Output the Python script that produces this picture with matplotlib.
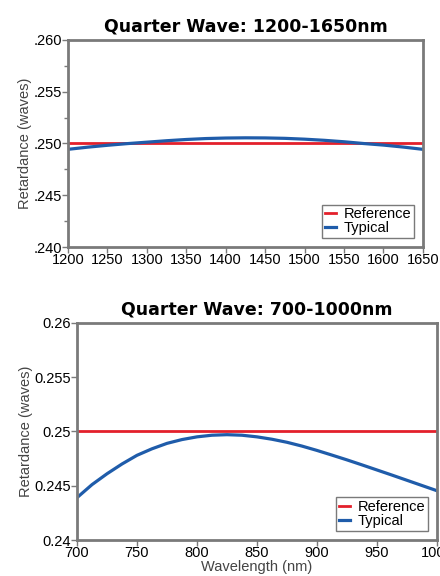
import matplotlib
matplotlib.use("Agg")
import matplotlib.pyplot as plt
from matplotlib.ticker import MultipleLocator, FuncFormatter

plt.rcParams['font.family'] = ['Liberation Sans', 'DejaVu Sans']

# top chart: 1200-1650nm
wl_ir = [1200, 1225, 1250, 1275, 1300, 1325, 1350, 1375, 1400, 1425, 1450,
         1475, 1500, 1525, 1550, 1575, 1600, 1625, 1650]
typ_ir = [0.24943, 0.24964, 0.24982, 0.24998, 0.25012, 0.25026, 0.25038, 0.25047, 0.25052, 0.25054,
          0.25053, 0.25049, 0.25041, 0.25030, 0.25016, 0.24999, 0.24984, 0.24965, 0.24943]
ref_ir = [0.250] * len(wl_ir)

# bottom chart: 700-1000nm
wl_nir = [700, 712.5, 725, 737.5, 750, 762.5, 775, 787.5, 800, 812.5, 825, 837.5, 850,
          862.5, 875, 887.5, 900, 912.5, 925, 937.5, 950, 962.5, 975, 987.5, 1000]
typ_nir = [0.2439, 0.2451, 0.2461, 0.2470, 0.2478, 0.2484, 0.2489, 0.24925, 0.2495, 0.24965,
           0.2497, 0.24965, 0.2495, 0.24928, 0.2490, 0.24865, 0.24825, 0.24782, 0.24738,
           0.24692, 0.24645, 0.24598, 0.2455, 0.24502, 0.24454]
ref_nir = [0.250] * len(wl_nir)

red = '#e3202b'
blue = '#1f5caa'
gray = '#7a7a7a'
fs = 10.5

fig = plt.figure(figsize=(4.4, 5.76), dpi=100)
ax1 = fig.add_axes([0.1545, 0.571, 0.8065, 0.36])
ax2 = fig.add_axes([0.175, 0.0625, 0.818, 0.377])


def style(ax, title):
    for s in ax.spines.values():
        s.set_color(gray)
        s.set_linewidth(2)
    ax.tick_params(which='both', direction='out', color=gray, labelsize=fs, pad=0.5)
    ax.tick_params(which='major', length=4, width=1)
    ax.tick_params(which='minor', length=3, width=1)
    ax.set_ylabel('Retardance (waves)', fontsize=fs, color='#444444', labelpad=1)
    ax.set_title(title, fontsize=12.5, fontweight='bold', family='DejaVu Sans', pad=6)
    leg = ax.legend(loc='lower right', fontsize=fs, handlelength=0.8, handletextpad=0.5,
                    borderpad=0.2, labelspacing=0.0, fancybox=False, framealpha=1,
                    edgecolor=gray, borderaxespad=0.6)
    leg.get_frame().set_linewidth(1)


ax1.plot(wl_ir, ref_ir, color=red, lw=2, label='Reference')
ax1.plot(wl_ir, typ_ir, color=blue, lw=2.3, label='Typical')
ax1.set_xlim(1200, 1650)
ax1.set_ylim(0.240, 0.260)
ax1.xaxis.set_major_locator(MultipleLocator(50))
ax1.yaxis.set_major_locator(MultipleLocator(0.005))
ax1.yaxis.set_minor_locator(MultipleLocator(0.0025))
ax1.yaxis.set_major_formatter(FuncFormatter(lambda v, p: ('%.3f' % v)[1:]))
style(ax1, 'Quarter Wave: 1200-1650nm')

ax2.plot(wl_nir, ref_nir, color=red, lw=2, label='Reference')
ax2.plot(wl_nir, typ_nir, color=blue, lw=2.3, label='Typical')
ax2.set_xlim(700, 1000)
ax2.set_ylim(0.240, 0.260)
ax2.xaxis.set_major_locator(MultipleLocator(50))
ax2.yaxis.set_major_locator(MultipleLocator(0.005))
ax2.yaxis.set_major_formatter(FuncFormatter(lambda v, p: '%g' % round(v, 4)))
ax2.set_xlabel('Wavelength (nm)', fontsize=fs, color='#444444', labelpad=0)
style(ax2, 'Quarter Wave: 700-1000nm')

fig.savefig('out.png', dpi=100)
